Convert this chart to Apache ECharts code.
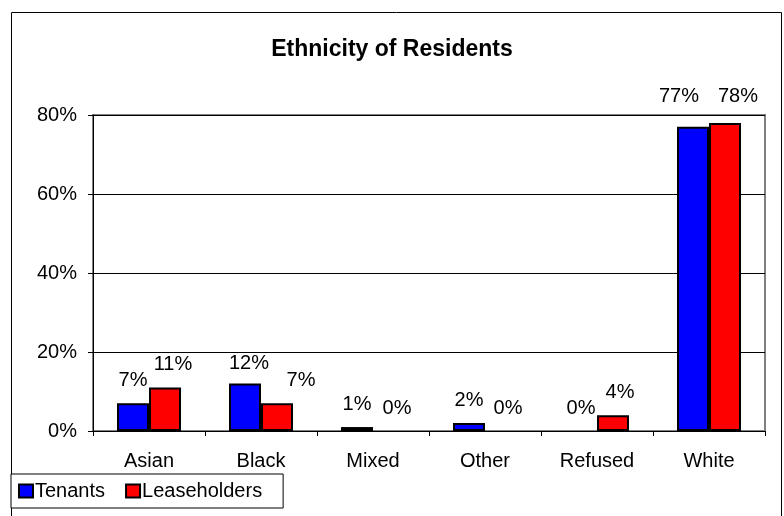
<!DOCTYPE html>
<html>
<head>
<meta charset="utf-8">
<script src="https://cdn.jsdelivr.net/npm/echarts@6/dist/echarts.min.js"></script>
<style>
html, body { margin: 0; padding: 0; background: #fff; }
#main { width: 784px; height: 516px; }
</style>
</head>
<body>
<div id="main"></div>
<script>
// 数据
var categories = ['Asian', 'Black', 'Mixed', 'Other', 'Refused', 'White'];
var tenants = [7, 12, 1, 2, 0, 77];
var leaseholders = [11, 7, 0, 0, 4, 78];
var yTicks = [0, 20, 40, 60, 80];

(function() {
    var myChart = echarts.init(document.getElementById('main'));
    var font = 'Liberation Sans, Arial, sans-serif';

    // 标签偏移（模仿 Excel 的标签布局）
    var tenantOffsets = [[0, 0], [4, 3], [0, 0], [0, 0], [0, 0], [-14, -7]];
    var leaseOffsets = [[8, 0], [24, 0], [8, 0], [7, 0], [7, 0], [13, -3]];

    function toItems(values, offsets) {
        return values.map(function(v, i) {
            var item = { value: v, label: { offset: offsets[i] } };
            // 0 值不画边框
            if (v === 0) item.itemStyle = { borderWidth: 0 };
            return item;
        });
    }

    var labelStyle = {
        show: true, position: 'top', distance: 13,
        fontSize: 20, color: '#000', fontFamily: font,
        formatter: '{c}%'
    };

    var option = {
        animation: false,
        textStyle: { fontFamily: font },
        title: {
            text: 'Ethnicity of Residents',
            left: 'center',
            top: 33,
            textStyle: { fontSize: 23, fontWeight: 'bold', color: '#000', fontFamily: font }
        },
        // 外框
        graphic: [{
            type: 'rect',
            z: -1,
            shape: { x: 11.5, y: 12.5, width: 770, height: 520 },
            style: { fill: 'none', stroke: '#000', lineWidth: 1 }
        }],
        legend: {
            left: 11,
            top: 474,
            orient: 'horizontal',
            padding: [7, 21, 7, 7],
            itemGap: 20,
            itemWidth: 14,
            itemHeight: 13,
            backgroundColor: '#fff',
            borderColor: '#000',
            borderWidth: 1,
            borderRadius: 0,
            icon: 'rect',
            textStyle: { fontSize: 20, color: '#000', fontFamily: font, padding: [0, 0, 0, -3] },
            data: ['Tenants', 'Leaseholders']
        },
        grid: {
            left: 93,
            right: 19,
            top: 115,
            bottom: 85,
            show: true,
            borderColor: '#808080',
            borderWidth: 2,
            backgroundColor: '#fff'
        },
        xAxis: {
            type: 'category',
            data: categories,
            axisLine: { lineStyle: { color: '#000', width: 1 } },
            axisTick: { show: true, length: 5, lineStyle: { color: '#000' } },
            axisLabel: { fontSize: 20, color: '#000', margin: 20, fontFamily: font }
        },
        yAxis: {
            type: 'value',
            min: 0,
            max: 80,
            interval: 20,
            axisLine: { show: true, lineStyle: { color: '#000', width: 1 } },
            axisTick: { show: true, length: 5, lineStyle: { color: '#000' } },
            splitLine: { lineStyle: { color: '#000', width: 1 } },
            axisLabel: {
                fontSize: 20, color: '#000', margin: 16, fontFamily: font,
                formatter: function(v) { return yTicks.indexOf(v) >= 0 ? v + '%' : ''; }
            }
        },
        series: [{
            name: 'Tenants',
            type: 'bar',
            data: toItems(tenants, tenantOffsets),
            barWidth: 32,
            barGap: '0%',
            itemStyle: { color: '#0000ff', borderColor: '#000', borderWidth: 2 },
            label: labelStyle
        }, {
            name: 'Leaseholders',
            type: 'bar',
            data: toItems(leaseholders, leaseOffsets),
            barWidth: 32,
            barGap: '0%',
            itemStyle: { color: '#ff0000', borderColor: '#000', borderWidth: 2 },
            label: labelStyle
        }]
    };

    myChart.setOption(option);
})();
</script>
</body>
</html>
